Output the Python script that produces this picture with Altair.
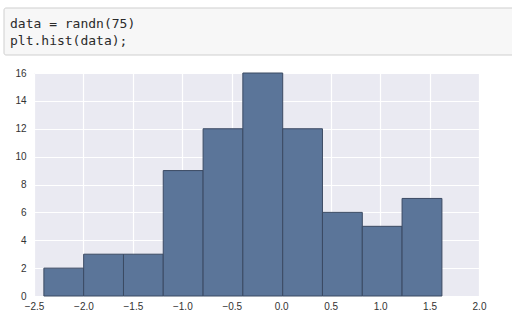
import altair as alt
import pandas as pd

# Histogram bins (left/right edges) and counts
bin_left = [-2.40, -1.998, -1.595, -1.193, -0.790, -0.388, 0.015, 0.417, 0.820, 1.222]
bin_right = [-1.998, -1.595, -1.193, -0.790, -0.388, 0.015, 0.417, 0.820, 1.222, 1.625]
counts = [2, 3, 3, 9, 12, 16, 12, 6, 5, 7]

x_ticks = [-2.5, -2.0, -1.5, -1.0, -0.5, 0.0, 0.5, 1.0, 1.5, 2.0]
y_ticks = [0, 2, 4, 6, 8, 10, 12, 14, 16]

code_lines = ["data = randn(75)", "plt.hist(data);"]

df = pd.DataFrame({"left": bin_left, "right": bin_right, "count": counts,
                   "base": [0] * len(counts)})

W, H = 445, 223

bars = alt.Chart(df).mark_bar(
    color="#5B7599", stroke="#3B4A63", strokeWidth=1, opacity=1
).encode(
    x=alt.X("left:Q",
            scale=alt.Scale(domain=[-2.5, 2.0], nice=False, zero=False, padding=0),
            axis=alt.Axis(values=x_ticks, format=".1f", title=None,
                          domain=False, ticks=False, labelPadding=5,
                          labelFlush=False,
                          labelFontSize=10, labelColor="#333333",
                          labelFont="Liberation Sans",
                          gridColor="white", gridWidth=1.2)),
    x2="right:Q",
    y=alt.Y("count:Q",
            scale=alt.Scale(domain=[0, 16], nice=False, padding=0),
            axis=alt.Axis(values=y_ticks, title=None, domain=False, ticks=False,
                          labelPadding=8, labelFlush=False,
                          labelFontSize=10, labelColor="#333333",
                          labelFont="Liberation Sans",
                          gridColor="white", gridWidth=1.2)),
    y2="base:Q",
)

code_box = alt.Chart(pd.DataFrame({"a": [0]})).mark_rect(
    fill="#F7F7F7", stroke="#CFCFCF", strokeWidth=1, cornerRadius=2
).encode(
    x=alt.value(-30), x2=alt.value(483),
    y=alt.value(-65), y2=alt.value(-18),
)

t1 = alt.Chart(pd.DataFrame({"t": [code_lines[0]]})).mark_text(
    font="DejaVu Sans Mono", fontSize=13, align="left", baseline="alphabetic",
    color="#2a2a2a"
).encode(text="t:N", x=alt.value(-24), y=alt.value(-45))

t2 = alt.Chart(pd.DataFrame({"t": [code_lines[1]]})).mark_text(
    font="DejaVu Sans Mono", fontSize=13, align="left", baseline="alphabetic",
    color="#2a2a2a"
).encode(text="t:N", x=alt.value(-24), y=alt.value(-28))

chart = alt.layer(code_box, bars, t1, t2).properties(
    width=W, height=H,
    autosize=alt.AutoSizeParams(type="none"),
    padding={"left": 34, "top": 73, "right": 33, "bottom": 33},
    background="white",
).configure_view(
    fill="#EAEAF2", stroke=None
)

chart.save("out.html", embed_options={"renderer": "svg", "actions": False})
